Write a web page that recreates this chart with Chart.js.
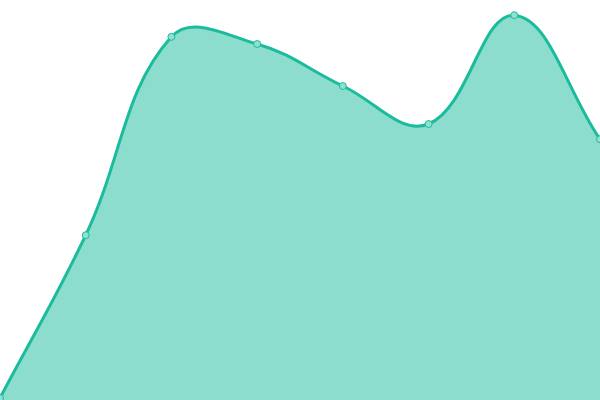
<!DOCTYPE html>
<html lang="en">
<head>
  <meta charset="UTF-8" />
  <title>Area chart</title>
  <script src="https://cdn.jsdelivr.net/npm/chart.js"></script>
  <style>
    html, body {
      margin: 0;
      padding: 0;
      background: #ffffff;
    }
    #chartContainer {
      width: 600px;
      height: 400px;
    }
  </style>
</head>
<body>
  <div id="chartContainer">
    <canvas id="areaChart"></canvas>
  </div>

  <script>
    const labels = ['1', '2', '3', '4', '5', '6', '7', '8'];
    const values = [0.5, 41.2, 90.8, 89, 78.5, 69, 96.2, 65.2];

    const ctx = document.getElementById('areaChart').getContext('2d');
    new Chart(ctx, {
      type: 'line',
      data: {
        labels,
        datasets: [{
          data: values,
          fill: true,
          backgroundColor: 'rgba(26, 188, 156, 0.5)',
          borderColor: '#1abc9c',
          borderWidth: 3,
          tension: 0.4,
          pointRadius: 3.5,
          pointBorderWidth: 1,
          pointBackgroundColor: '#8fe0cf',
          pointBorderColor: '#1abc9c'
        }]
      },
      options: {
        responsive: true,
        maintainAspectRatio: false,
        animation: false,
        layout: { padding: 0, autoPadding: false },
        plugins: {
          legend: { display: false },
          tooltip: { enabled: false }
        },
        scales: {
          x: { display: false },
          y: { display: false, min: 0, max: 100 }
        }
      }
    });
  </script>
</body>
</html>
